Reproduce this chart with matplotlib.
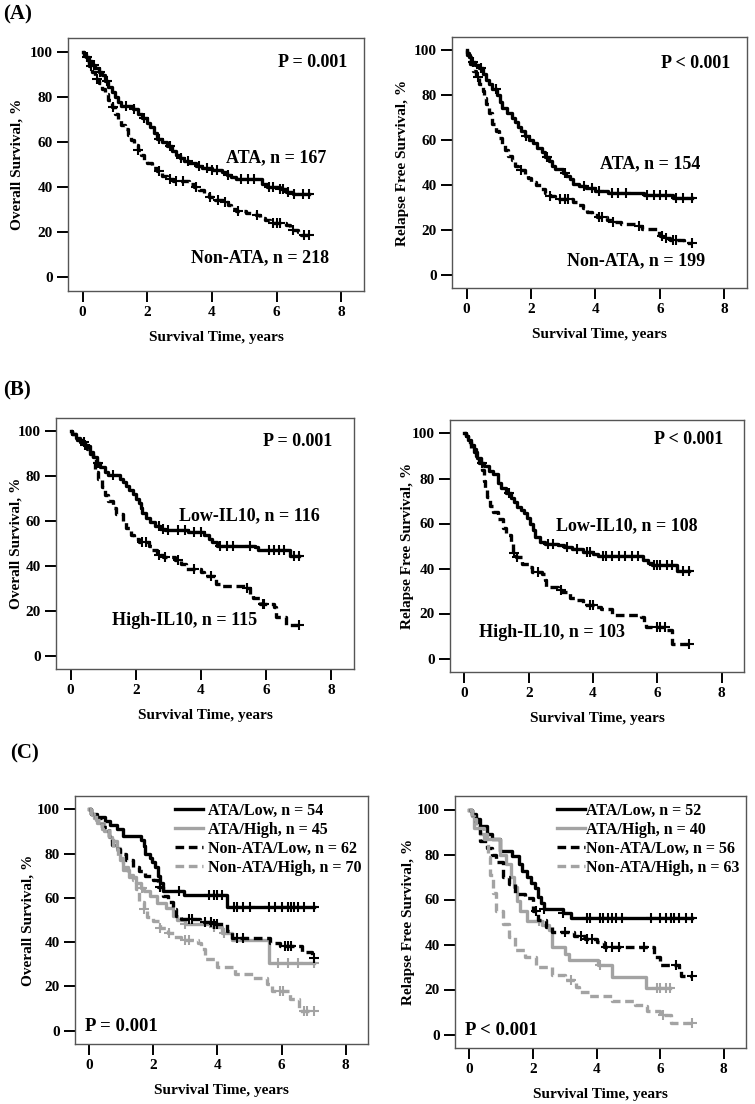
import numpy as np
import matplotlib
matplotlib.use("Agg")
import matplotlib.pyplot as plt

plt.rcParams['font.family'] = ['Liberation Serif', 'DejaVu Serif']
plt.rcParams['font.weight'] = 'bold'

GRAY = '#a3a3a3'

# ---- (A) ATA vs Non-ATA ----
a_os_ata_t = [0.03, 0.1, 0.2, 0.3, 0.4, 0.5, 0.6, 0.7, 0.8, 0.9, 1.0, 1.1, 1.2, 1.55, 1.7, 1.85, 2.0, 2.1, 2.2, 2.3,
              2.45, 2.6, 2.75, 2.9, 3.0, 3.15, 3.3, 3.5, 3.7, 4.0, 4.3, 4.45, 4.6, 4.75, 5.55, 5.7, 6.1, 6.3, 6.5, 7.0]
a_os_ata_s = [99, 97.5, 96, 94, 92.5, 91, 89.5, 87, 84.5, 82, 80, 77.5, 76, 74.5, 72.5, 70.5, 68.5, 66.5, 64, 61.5,
              60, 58, 56, 54, 53, 51.5, 50.5, 49.5, 48.5, 47.5, 46.5, 45.5, 44.5, 43.5, 41.5, 40, 39, 38, 37, 37]
a_os_ata_c = [0.15, 0.35, 0.55, 0.75, 1.35, 1.6, 1.9, 2.35, 2.7, 3.05, 3.25, 3.6, 3.85, 4.0, 4.15, 4.5, 4.9, 5.1,
              5.3, 5.75, 5.9, 6.1, 6.2, 6.35, 6.55, 6.8, 7.0]

a_os_non_t = [0.03, 0.1, 0.2, 0.3, 0.4, 0.5, 0.6, 0.7, 0.8, 0.9, 1.0, 1.1, 1.2, 1.3, 1.4, 1.5, 1.6, 1.7, 1.8, 1.9,
              2.0, 2.15, 2.3, 2.45, 2.6, 2.8, 3.3, 3.45, 3.6, 3.75, 3.9, 4.1, 4.35, 4.5, 4.6, 4.75, 5.05, 5.35,
              5.5, 5.65, 5.8, 6.3, 6.4, 6.5, 6.65, 6.75, 7.0]
a_os_non_s = [98, 96, 93.5, 91, 88, 86, 83.5, 81, 78.5, 75.5, 72.5, 70, 67.5, 65.5, 63, 61, 58.5, 56.5, 54, 52,
              50.5, 48.5, 47, 45, 43.5, 42.5, 41.5, 40, 38.5, 37, 35.5, 34.5, 33.5, 32, 30.5, 29.5, 28.5, 27.5,
              26.5, 25.5, 24, 23, 22, 21, 20, 19, 19]
a_os_non_c = [0.25, 0.45, 0.95, 1.7, 2.35, 2.7, 2.9, 3.1, 3.5, 3.95, 4.2, 4.4, 4.8, 5.4, 5.9, 6.0, 6.1, 6.5,
              6.85, 7.0]

a_rfs_ata_t = [0.03, 0.08, 0.15, 0.25, 0.4, 0.5, 0.6, 0.7, 0.8, 0.95, 1.05, 1.1, 1.25, 1.4, 1.5, 1.6, 1.7, 1.8,
               1.95, 2.05, 2.2, 2.35, 2.45, 2.55, 2.65, 2.75, 3.0, 3.1, 3.2, 3.3, 3.5, 3.7, 4.0, 4.4, 5.5, 6.4, 7.0]
a_rfs_ata_s = [99, 97, 95, 93.5, 92, 89.5, 87, 85, 83, 80, 77, 74.5, 72, 70, 68, 66, 64, 62,
               60, 58.5, 56.5, 54.5, 52.5, 50.5, 48.5, 47, 45.5, 44, 42.5, 40.5, 39.5, 38.5, 37.5, 36.5, 35.5, 34, 34]
a_rfs_ata_c = [0.2, 0.45, 0.9, 1.85, 2.5, 3.05, 3.65, 3.9, 4.1, 4.5, 4.7, 4.95, 5.6, 5.8, 6.0, 6.2, 6.5, 6.7, 7.0]

a_rfs_non_t = [0.03, 0.1, 0.2, 0.3, 0.4, 0.5, 0.55, 0.6, 0.7, 0.8, 0.9, 1.0, 1.1, 1.2, 1.3, 1.4, 1.5, 1.6, 1.8,
               1.9, 2.0, 2.15, 2.3, 2.45, 2.6, 2.75, 3.3, 3.45, 3.6, 3.75, 3.9, 4.05, 4.35, 4.5, 4.8, 5.3, 5.45,
               5.9, 6.0, 6.1, 6.3, 6.75, 7.0]
a_rfs_non_s = [98, 94, 91, 88, 85, 82, 79, 76, 72, 67, 64, 61, 58, 55.5, 53, 51, 48.5, 46.5, 45,
               43, 41.5, 40, 38, 36.5, 35, 33.5, 32.5, 31, 29.5, 28, 26.5, 25.5, 24.5, 23.5, 22.5, 21.5, 20.5,
               18.5, 17, 16.5, 15.5, 14, 14]
a_rfs_non_c = [0.35, 1.7, 2.6, 2.9, 3.05, 3.15, 4.1, 4.2, 4.55, 5.35, 6.05, 6.2, 6.4, 6.5, 7.0]

# ---- (B) Low-IL10 vs High-IL10 ----
b_os_low_t = [0.05, 0.15, 0.3, 0.45, 0.6, 0.7, 0.8, 0.9, 1.05, 1.15, 1.5, 1.6, 1.7, 1.8, 1.9, 2.0, 2.1, 2.15,
              2.2, 2.3, 2.45, 2.6, 2.75, 2.9, 3.6, 4.1, 4.25, 4.35, 4.5, 5.65, 5.75, 6.75, 7.0]
b_os_low_s = [99, 97, 95.5, 93.5, 91, 88.5, 86, 84, 82, 80.5, 79, 77.5, 75.5, 74, 72, 70, 68, 66,
              63.5, 61.5, 59.5, 58, 56.5, 56, 55, 54, 52, 50.5, 49, 48.5, 47, 44.5, 44.5]
b_os_low_c = [0.4, 0.85, 1.3, 2.7, 2.85, 3.0, 3.3, 3.5, 3.8, 4.0, 4.6, 4.8, 5.0, 5.5, 6.1, 6.25, 6.4, 6.55,
              6.85, 7.0]

b_os_high_t = [0.05, 0.2, 0.35, 0.5, 0.6, 0.7, 0.75, 0.85, 0.95, 1.05, 1.15, 1.3, 1.4, 1.6, 1.7, 1.85, 1.95,
               2.1, 2.4, 2.5, 2.65, 2.85, 3.2, 3.4, 3.55, 4.0, 4.1, 4.45, 4.6, 5.35, 5.5, 5.6, 5.8, 6.25, 6.3,
               6.6, 7.0]
b_os_high_s = [99, 96, 94, 92, 90, 87, 82, 79, 75, 71.5, 69, 66, 63, 59.5, 57, 54, 52,
               50.5, 49, 47, 45, 44, 42.5, 41, 38.5, 37.5, 35.5, 32, 31, 30, 27.5, 25.5, 23, 21.5, 17,
               13.8, 13.8]
b_os_high_c = [0.45, 2.2, 2.3, 2.7, 2.9, 3.3, 3.8, 4.3, 5.4, 5.9, 5.95, 7.0]

b_rfs_low_t = [0.05, 0.1, 0.2, 0.3, 0.4, 0.5, 0.6, 0.75, 0.9, 1.05, 1.15, 1.3, 1.45, 1.55, 1.65, 1.75, 1.85,
               1.95, 2.05, 2.12, 2.2, 2.35, 2.5, 2.9, 3.1, 3.35, 3.7, 4.0, 4.15, 5.55, 5.7, 5.85, 6.6, 7.0]
b_rfs_low_s = [99, 97, 95, 92, 89, 87, 85.5, 83.5, 82, 78, 76, 73.5, 71.5, 69.5, 67.5, 66, 64.5,
               62.5, 60, 57, 54, 52, 51, 50.5, 49.5, 48.5, 47.5, 46.5, 45.5, 44, 42.5, 41.5, 39, 39]
b_rfs_low_c = [0.55, 1.4, 2.6, 2.75, 3.2, 3.5, 3.8, 3.9, 4.3, 4.4, 4.6, 4.8, 5.0, 5.2, 5.4, 5.9, 6.0, 6.1,
               6.3, 6.45, 6.8, 7.0]

b_rfs_high_t = [0.05, 0.1, 0.2, 0.35, 0.45, 0.55, 0.6, 0.65, 0.7, 0.8, 0.9, 1.05, 1.2, 1.3, 1.45, 1.5, 1.6,
                1.8, 2.0, 2.1, 2.4, 2.5, 2.55, 2.9, 3.05, 3.3, 3.5, 3.7, 4.1, 4.25, 4.6, 5.5, 5.6, 5.65, 6.3,
                6.45, 7.0]
b_rfs_high_s = [99, 96, 93, 90, 87, 84, 79, 76, 72, 68, 65, 62, 58, 55, 51, 47, 45,
                42, 40.5, 38.5, 37.5, 35, 32, 30.5, 29.5, 27, 26, 24, 23, 22, 19.5, 18.5, 16, 14, 12.8,
                6.5, 6.5]
b_rfs_high_c = [1.55, 1.65, 2.3, 3.0, 3.9, 4.0, 6.0, 6.1, 6.25, 7.0]

# ---- (C) combined groups ----
c_names_os = ['ATA/Low, n = 54', 'ATA/High, n = 45', 'Non-ATA/Low, n = 62', 'Non-ATA/High, n = 70']
c_names_rfs = ['ATA/Low, n = 52', 'ATA/High, n = 40', 'Non-ATA/Low, n = 56', 'Non-ATA/High, n = 63']

c_os_t = [
    [0.05, 0.25, 0.5, 0.65, 0.85, 1.05, 1.6, 1.7, 1.75, 1.9, 1.95, 2.05, 2.15, 2.22, 2.3, 2.95, 4.3, 7.0],
    [0.05, 0.15, 0.25, 0.45, 0.6, 0.7, 0.85, 0.95, 1.05, 1.25, 1.45, 1.6, 1.7, 1.9, 2.1, 2.4, 2.6, 2.75,
     3.0, 3.85, 4.15, 4.45, 5.6, 7.0],
    [0.05, 0.2, 0.4, 0.6, 0.7, 0.8, 0.95, 1.15, 1.35, 1.55, 1.75, 2.0, 2.15, 2.3, 2.45, 2.6, 2.7, 2.85,
     3.45, 3.85, 4.3, 4.45, 5.65, 5.95, 6.65, 6.95, 7.0],
    [0.05, 0.2, 0.4, 0.6, 0.75, 0.9, 1.05, 1.2, 1.35, 1.45, 1.55, 1.7, 1.8, 2.0, 2.2, 2.45, 2.65, 2.85,
     3.4, 3.5, 3.6, 4.0, 4.55, 5.1, 5.55, 5.7, 6.25, 6.55, 7.0],
]
c_os_s = [
    [98, 96.5, 94.5, 93, 91, 88, 86, 83.5, 80, 78, 76, 74, 70, 66.5, 63, 61.5, 56, 56],
    [98, 96, 94, 90, 87.5, 85.5, 82.5, 77, 72.5, 69.5, 66.5, 64.5, 63, 61, 57.5, 55.5, 52, 50,
     48, 47, 44, 41, 30.7, 30.7],
    [98, 96, 92, 88, 84, 82, 80, 77, 74, 72, 70, 68, 65, 61, 58, 55, 52, 50.5,
     49.2, 48, 45, 42, 39.5, 38.2, 35.5, 33, 33],
    [98, 95, 91, 87, 82, 78, 74, 70.5, 68, 64, 58, 55, 51.5, 49.5, 46.5, 44, 42.5, 41,
     39.5, 37, 32.5, 29, 25.5, 24, 21, 18, 14.5, 9, 9],
]
c_os_c = [
    [2.8, 3.75, 3.9, 4.0, 4.15, 4.5, 4.6, 4.8, 5.0, 5.6, 5.8, 6.0, 6.2, 6.3, 6.4, 6.5, 6.7, 7.0],
    [1.65, 3.0, 3.9, 4.2, 5.9, 6.2, 6.5, 7.0],
    [2.2, 3.1, 3.2, 3.6, 3.8, 3.9, 4.0, 4.6, 4.8, 6.1, 6.2, 6.3, 7.0],
    [1.7, 2.2, 2.5, 3.0, 3.1, 5.95, 6.05, 6.7, 6.8, 7.0],
]

c_rfs_t = [
    [0.1, 0.2, 0.35, 0.55, 0.7, 0.95, 1.35, 1.55, 1.65, 1.8, 1.95, 2.05, 2.15, 2.25, 2.35, 2.95, 3.2, 7.0],
    [0.1, 0.15, 0.35, 0.55, 0.95, 1.15, 1.3, 1.4, 1.5, 1.6, 1.8, 2.3, 2.5, 2.6, 3.0, 3.15, 4.05, 4.5,
     5.55, 6.3],
    [0.1, 0.2, 0.35, 0.55, 0.7, 0.85, 1.05, 1.25, 1.45, 1.75, 2.0, 2.15, 2.4, 2.6, 3.3, 3.65, 4.0, 4.25,
     5.8, 6.0, 6.6, 6.65, 7.0],
    [0.1, 0.2, 0.45, 0.6, 0.65, 0.75, 0.85, 1.05, 1.25, 1.45, 1.75, 2.1, 2.6, 3.0, 3.35, 3.45, 3.75, 4.5,
     5.2, 5.5, 5.6, 6.0, 6.35, 7.0],
]
c_rfs_s = [
    [98, 96, 92.5, 89, 87, 81.5, 79.5, 76, 72.5, 70, 67.5, 65, 61, 58.5, 56, 54, 52, 52],
    [97, 92, 89, 87, 80, 76, 70, 65.5, 59.5, 55, 50.5, 48.5, 46.5, 39, 36, 33, 31, 25.7,
     20.6, 20.6],
    [97, 94.5, 86, 83, 80, 76.5, 70, 67, 62.5, 60.5, 55, 51, 48, 45.7, 44, 42.5, 41, 39,
     34.5, 31, 28.5, 26, 26],
    [96, 92, 87, 79, 71, 63, 55, 49, 43.5, 37.5, 34.5, 30, 26.5, 24.3, 21.3, 19, 17, 14.7,
     13.2, 12.5, 10.3, 8.8, 5, 5],
]
c_rfs_c = [
    [2.35, 2.95, 3.7, 3.8, 4.1, 4.2, 4.35, 4.5, 4.6, 4.8, 5.7, 6.0, 6.2, 6.35, 6.45, 6.6, 6.8, 7.0],
    [2.2, 4.1, 5.9, 6.0, 6.2, 6.3],
    [2.1, 3.0, 3.5, 3.7, 3.85, 4.3, 4.5, 4.7, 5.5, 6.5, 7.0],
    [3.2, 6.1, 7.0],
]
c_colors = ['black', GRAY, 'black', GRAY]
c_dashed = [False, False, True, True]


def km(ax, t, s, cens, color='black', dashed=False):
    tt = np.concatenate([[0.0], t])
    ss = np.concatenate([[100.0], s])
    ls = (0, (2.6, 1.4)) if dashed else '-'
    line, = ax.plot(tt, ss, drawstyle='steps-post', color=color, lw=2.4, ls=ls)
    idx = np.searchsorted(tt, cens, side='right') - 1
    ax.plot(cens, ss[idx], ls='none', marker='+', ms=6.5, mew=1.5, color=color)
    return line


def style(ax, ylabel, ylab_x):
    ax.set_xlim(-0.45, 8.7)
    ax.set_ylim(-6, 106)
    ax.set_xticks([0, 2, 4, 6, 8])
    ax.set_yticks([0, 20, 40, 60, 80, 100])
    ax.tick_params(direction='out', length=8, width=1.4, labelsize=11, pad=3)
    for sp in ax.spines.values():
        sp.set_color('#555555')
        sp.set_linewidth(1.0)
    ax.set_xlabel('Survival Time, years', fontsize=11, fontweight='bold')
    ax.set_ylabel(ylabel, fontsize=11, fontweight='bold')
    ax.xaxis.set_label_coords(0.5, -0.16)
    ax.yaxis.set_label_coords(ylab_x, 0.5)


W, H = 755, 1104
fig = plt.figure(figsize=(W / 100, H / 100), dpi=100)


def add_axes(l, t, r, b):
    return fig.add_axes([l / W, 1 - b / H, (r - l) / W, (b - t) / H])


# (A)
ax = add_axes(68, 38, 364, 291)
km(ax, a_os_ata_t, a_os_ata_s, a_os_ata_c)
km(ax, a_os_non_t, a_os_non_s, a_os_non_c, dashed=True)
style(ax, 'Overall Survival, %', -0.149)
ax.text(7.1, 95, 'P = 0.001', ha='center', va='center', fontsize=13)
ax.text(6.0, 53, 'ATA, n = 167', ha='center', va='center', fontsize=13)
ax.text(5.5, 8.8, 'Non-ATA, n = 218', ha='center', va='center', fontsize=13)

ax = add_axes(452, 37, 747, 288)
km(ax, a_rfs_ata_t, a_rfs_ata_s, a_rfs_ata_c)
km(ax, a_rfs_non_t, a_rfs_non_s, a_rfs_non_c, dashed=True)
style(ax, 'Relapse Free Survival, %', -0.146)
ax.text(7.1, 94, 'P < 0.001', ha='center', va='center', fontsize=13)
ax.text(5.7, 49.6, 'ATA, n = 154', ha='center', va='center', fontsize=13)
ax.text(5.25, 6.2, 'Non-ATA, n = 199', ha='center', va='center', fontsize=13)

# (B)
ax = add_axes(56, 418, 354, 669)
km(ax, b_os_low_t, b_os_low_s, b_os_low_c)
km(ax, b_os_high_t, b_os_high_s, b_os_high_c, dashed=True)
style(ax, 'Overall Survival, %', -0.114)
ax.text(6.98, 95.6, 'P = 0.001', ha='center', va='center', fontsize=13)
ax.text(5.5, 62.2, 'Low-IL10, n = 116', ha='center', va='center', fontsize=13)
ax.text(3.5, 15.6, 'High-IL10, n = 115', ha='center', va='center', fontsize=13)

ax = add_axes(450, 420, 744, 672)
km(ax, b_rfs_low_t, b_rfs_low_s, b_rfs_low_c)
km(ax, b_rfs_high_t, b_rfs_high_s, b_rfs_high_c, dashed=True)
style(ax, 'Relapse Free Survival, %', -0.122)
ax.text(6.97, 97.4, 'P < 0.001', ha='center', va='center', fontsize=13)
ax.text(5.04, 59, 'Low-IL10, n = 108', ha='center', va='center', fontsize=13)
ax.text(2.72, 11.7, 'High-IL10, n = 103', ha='center', va='center', fontsize=13)

# (C)
for box, ts, ss, cs, names, ylabel, ylx, ptxt, pad in [
        ((75, 796, 368, 1044), c_os_t, c_os_s, c_os_c, c_names_os, 'Overall Survival, %', -0.137, 'P = 0.001', 0.3),
        ((455, 796, 746, 1048), c_rfs_t, c_rfs_s, c_rfs_c, c_names_rfs, 'Relapse Free Survival, %', -0.137,
         'P < 0.001', 0.05)]:
    ax = add_axes(*box)
    lines = []
    for t, s, c, col, d in zip(ts, ss, cs, c_colors, c_dashed):
        lines.append(km(ax, t, s, c, color=col, dashed=d))
    style(ax, ylabel, ylx)
    ax.text(-0.15, 1.8, ptxt, ha='left', va='center', fontsize=13.5)
    ax.legend(lines, names, loc='upper right', frameon=False, fontsize=11.5, handlelength=1.8,
              handletextpad=pad, labelspacing=0.2, borderaxespad=0.2, borderpad=0.2)

fig.text(3 / W, 1 - 14 / H, '(A)', fontsize=15, va='center', ha='left')
fig.text(3 / W, 1 - 390 / H, '(B)', fontsize=15, va='center', ha='left')
fig.text(10 / W, 1 - 753 / H, '(C)', fontsize=15, va='center', ha='left')

fig.savefig('out.png', dpi=100)
